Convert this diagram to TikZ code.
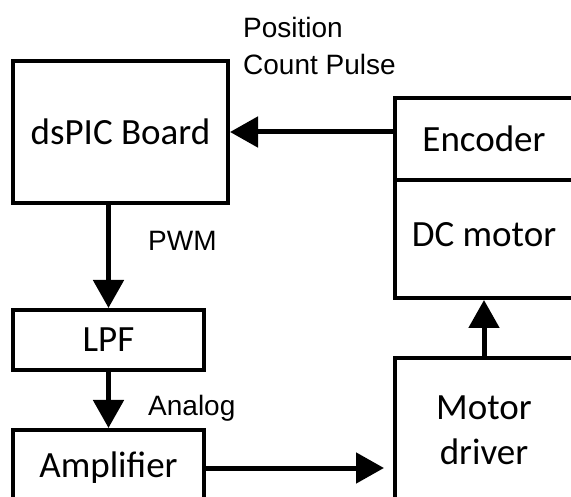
\documentclass[tikz,border=0pt]{standalone}
\usepackage{fontspec}
\setmainfont{Carlito}
\newfontfamily\signalfont{Liberation Sans}
\usetikzlibrary{arrows.meta,positioning}

\begin{document}
\begin{tikzpicture}[x=1pt,y=-1pt,
  block/.style={draw,line width=4pt,inner sep=0pt,align=center,
    font=\fontsize{37}{45}\selectfont},
  signal/.style={inner sep=0pt,align=left,
    font=\signalfont\fontsize{28}{37}\selectfont},
  arrow/.style={line width=5pt,-{Triangle[length=28pt,width=30pt]}}]

  % Frame of the picture (boxes on the right and bottom run off it)
  \clip (0,0) rectangle (571,497);

  % Blocks on the left
  \node[block,minimum width=215pt,minimum height=142pt] (board) at (120.5,132) {dsPIC Board};
  \node[block,minimum width=191pt,minimum height=60pt] (lpf) at (108.5,340) {LPF};
  \node[block,minimum width=191pt,minimum height=76pt] (amp) at (108.5,468) {Amplifier};

  % Blocks on the right
  \node[block,minimum width=178pt,minimum height=82pt] (encoder) at (484,139) {Encoder};
  \node[block,minimum width=178pt,minimum height=118pt,text depth=10pt] (motor) at (484,239) {DC motor};
  \node[block,minimum width=178pt,minimum height=144pt] (driver) at (484,430) {Motor\\driver};

  % Connectors
  \draw[arrow] (encoder.west |- board.east) -- (board.east);
  \draw[arrow] (board.south -| lpf.north) -- (lpf.north);
  \draw[arrow] (lpf) -- (amp);
  \draw[arrow,shorten >=9pt] (amp.east) -- (amp.east -| driver.west);
  \draw[arrow] (driver) -- (motor);

  % Signal names
  \node[signal,anchor=west] (pulse) at (243,46) {Position\\Count Pulse};
  \node[signal,anchor=west] (pwm) at (148,241) {PWM};
  \node[signal,anchor=west] (analog) at (148,408) {Analog};

\end{tikzpicture}
\end{document}
